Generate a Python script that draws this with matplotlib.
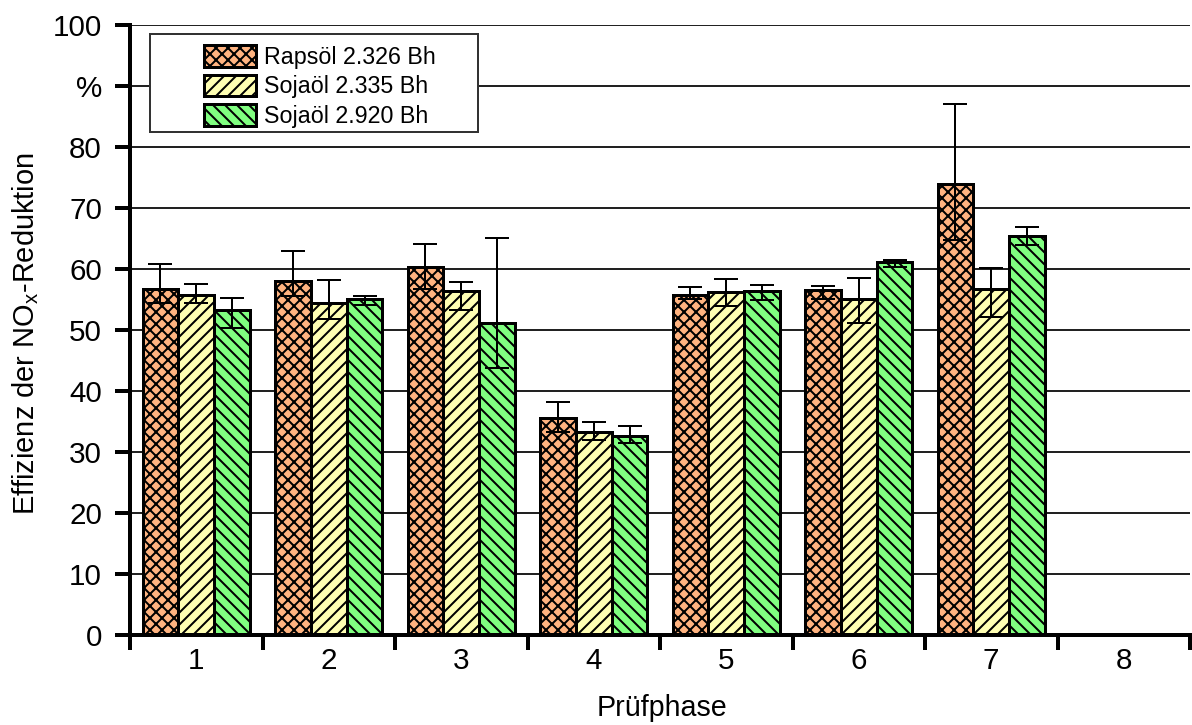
import matplotlib
matplotlib.use('Agg')
import matplotlib.pyplot as plt
import numpy as np
from matplotlib.patches import Rectangle

plt.rcParams['font.family'] = ['Liberation Sans', 'DejaVu Sans']
plt.rcParams['mathtext.fontset'] = 'custom'
plt.rcParams['mathtext.rm'] = 'Liberation Sans'
plt.rcParams['mathtext.it'] = 'Liberation Sans:italic'
plt.rcParams['hatch.linewidth'] = 1.0

# ---- data ----
phases = ['1', '2', '3', '4', '5', '6', '7', '8']
series_labels = ['Rapsöl 2.326 Bh', 'Sojaöl 2.335 Bh', 'Sojaöl 2.920 Bh']

rapsoel = [56.8, 58.0, 60.4, 35.6, 55.8, 56.6, 73.9]
rapsoel_hi = [60.8, 63.0, 64.1, 38.2, 57.0, 57.2, 87.1]
rapsoel_lo = [54.5, 55.5, 56.7, 33.2, 55.1, 55.1, 64.8]

soja1 = [55.7, 54.5, 56.4, 33.2, 56.2, 55.0, 56.7]
soja1_hi = [57.6, 58.2, 57.9, 34.9, 58.3, 58.6, 60.1]
soja1_lo = [54.5, 51.8, 53.3, 31.9, 53.9, 51.1, 52.1]

soja2 = [53.3, 55.1, 51.2, 32.7, 56.4, 61.1, 65.4]
soja2_hi = [55.2, 55.5, 65.0, 34.3, 57.4, 61.5, 66.9]
soja2_lo = [50.3, 54.1, 43.8, 31.5, 54.9, 60.3, 64.0]

yticks = [0, 10, 20, 30, 40, 50, 60, 70, 80, 90, 100]
ytick_labels = ['0', '10', '20', '30', '40', '50', '60', '70', '80', '%', '100']

colors = ['#FFB380', '#FFFFB3', '#80FF80']
hatches = ['xxxx', '////', '\\\\\\\\']

W, H, dpi = 1192, 725, 144
fig = plt.figure(figsize=(W / dpi, H / dpi), dpi=dpi)
ax = fig.add_axes([130 / W, (H - 635) / H, 1060 / W, 610 / H])

x = np.arange(1, len(rapsoel) + 1)
width = 0.27
data = [(rapsoel, rapsoel_hi, rapsoel_lo), (soja1, soja1_hi, soja1_lo), (soja2, soja2_hi, soja2_lo)]
handles = []
for i, (vals, hi, lo) in enumerate(data):
    vals = np.array(vals); hi = np.array(hi); lo = np.array(lo)
    pos = x + (i - 1) * width
    b = ax.bar(pos, vals, width, color=colors[i], edgecolor='black', linewidth=1.5,
               hatch=hatches[i], label=series_labels[i], zorder=3)
    handles.append(b)
    ax.errorbar(pos, vals, yerr=[vals - lo, hi - vals], fmt='none', ecolor='black',
                elinewidth=1, capsize=6, capthick=1, zorder=4)

ax.set_xlim(0.5, 8.5)
ax.set_ylim(0, 100)
ax.set_yticks(yticks)
ax.set_yticklabels(ytick_labels, fontsize=14.8)
ax.set_xticks(np.arange(1, 9))
ax.set_xticklabels(phases, fontsize=14.8)
ax.set_xticks(np.arange(0.5, 9.0, 1.0), minor=True)
ax.tick_params(axis='x', which='major', length=0, pad=6)
ax.tick_params(axis='x', which='minor', length=7.5, width=2, direction='out')
ax.tick_params(axis='y', which='major', length=7.5, width=2, direction='out', pad=6.5)
ax.yaxis.grid(True, color='#222222', linewidth=1.0)
ax.set_axisbelow(True)
for s in ['top', 'right']:
    ax.spines[s].set_visible(False)
for s in ['left', 'bottom']:
    ax.spines[s].set_linewidth(2)
    ax.spines[s].set_zorder(5)

fig.text(26 / W, 1 - 334 / H, 'Effizienz der NO$_\\mathrm{x}$-Reduktion', rotation=90,
         ha='center', va='center', fontsize=14.5)
fig.text(662 / W, 1 - 708 / H, 'Prüfphase', ha='center', va='center', fontsize=14.3)

rect = Rectangle((150 / W, 1 - 132 / H), 328 / W, 98 / H, transform=fig.transFigure,
                 facecolor='white', edgecolor='#333333', linewidth=1.0, zorder=2)
fig.add_artist(rect)
leg = fig.legend(handles, series_labels, loc='upper left', bbox_to_anchor=(204 / W, 1 - 45 / H),
                 frameon=False, borderpad=0, borderaxespad=0, fontsize=11.6,
                 handlelength=2.24, handleheight=1.05, labelspacing=0.26, handletextpad=0.34)
leg.set_zorder(6)

fig.savefig('out.png', dpi=dpi)
